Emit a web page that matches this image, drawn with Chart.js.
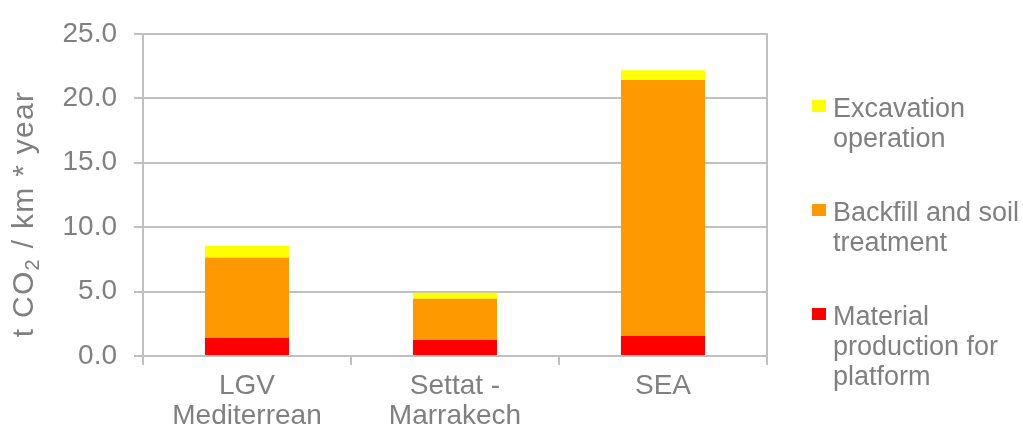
<!DOCTYPE html>
<html>
<head>
<meta charset="utf-8">
<script src="https://cdn.jsdelivr.net/npm/chart.js@4.4.1/dist/chart.umd.min.js"></script>
<style>
  html, body { margin: 0; padding: 0; background: #ffffff; }
  #wrap { width: 1023px; height: 445px; }
</style>
</head>
<body>
<div id="wrap"><canvas id="chart" width="1023" height="445"></canvas></div>
<script>
// Route categories (multi-line tick labels)
const categories = [["LGV", "Mediterrean"], ["Settat -", "Marrakech"], ["SEA"]];

// Emissions per series, t CO2 / km * year
const materialProduction = [1.40, 1.24, 1.55];
const backfillSoil = [6.24, 3.20, 19.86];
const excavationOperation = [0.91, 0.46, 0.76];

// Series names, split the way they wrap in the legend
const materialLines = ["Material", "production for", "platform"];
const backfillLines = ["Backfill and soil", "treatment"];
const excavationLines = ["Excavation", "operation"];

// Value axis
const yMin = 0;
const yMax = 25;
const yStep = 5;

const textColor = '#808080';
const lineColor = '#c0c0c0';
const fontFamily = '"Liberation Sans", Arial, sans-serif';
const tickFontSize = 28;
const legendFontSize = 27;
const titleFontSize = 30;

// Draws the rotated axis title (with subscript) and the wrapped legend on the right
const sideText = {
  id: 'sideText',
  afterDraw(chart) {
    const ctx = chart.ctx;
    const area = chart.chartArea;
    ctx.save();
    ctx.fillStyle = textColor;
    ctx.textBaseline = 'alphabetic';

    // Axis title: "t CO₂ / km * year"
    const big = titleFontSize + 'px ' + fontFamily;
    const small = Math.round(titleFontSize * 0.66) + 'px ' + fontFamily;
    ctx.letterSpacing = '1.3px';
    const parts = [
      { t: 't CO', f: big, dy: 0 },
      { t: '2', f: small, dy: 6 },
      { t: ' / km * year', f: big, dy: 0 }
    ];
    let total = 0;
    parts.forEach(p => { ctx.font = p.f; p.w = ctx.measureText(p.t).width; total += p.w; });
    ctx.translate(23, 214);
    ctx.rotate(-Math.PI / 2);
    let x = -total / 2;
    parts.forEach(p => {
      ctx.font = p.f;
      ctx.fillText(p.t, x, 10 + p.dy);
      x += p.w;
    });
    ctx.setTransform(1, 0, 0, 1, 0, 0);
    ctx.letterSpacing = '0px';

    // Legend, top entry = top of the stack
    ctx.font = legendFontSize + 'px ' + fontFamily;
    const sets = chart.data.datasets.slice().reverse();
    const boxX = area.right + 45;
    const textX = boxX + 21;
    const firstBase = 117;
    const entryGap = 104;
    const lineGap = 30;
    sets.forEach((ds, i) => {
      const base = firstBase + i * entryGap;
      ctx.fillStyle = ds.backgroundColor;
      ctx.fillRect(boxX, base - 17, 14, 12);
      ctx.fillStyle = textColor;
      ds.lines.forEach((ln, j) => ctx.fillText(ln, textX, base + j * lineGap));
    });
    ctx.restore();
  }
};

const ctx = document.getElementById('chart').getContext('2d');
new Chart(ctx, {
  type: 'bar',
  data: {
    labels: categories,
    datasets: [
      { label: materialLines.join(' '), lines: materialLines, data: materialProduction, backgroundColor: '#ff0000' },
      { label: backfillLines.join(' '), lines: backfillLines, data: backfillSoil, backgroundColor: '#ff9900' },
      { label: excavationLines.join(' '), lines: excavationLines, data: excavationOperation, backgroundColor: '#ffff00' }
    ]
  },
  options: {
    responsive: false,
    animation: false,
    devicePixelRatio: 1,
    layout: { padding: { top: 25, right: 256, left: 0, bottom: 0 } },
    datasets: { bar: { categoryPercentage: 1, barPercentage: 0.404, borderWidth: 0 } },
    plugins: { legend: { display: false }, tooltip: { enabled: false } },
    scales: {
      x: {
        stacked: true,
        offset: true,
        grid: { offset: true, drawOnChartArea: false, drawTicks: true, tickLength: 9, color: lineColor, lineWidth: 2 },
        border: { color: lineColor, width: 2 },
        ticks: {
          color: textColor, padding: 6, maxRotation: 0, autoSkip: false,
          font: { family: fontFamily, size: tickFontSize, lineHeight: 1.07 }
        },
        afterFit(s) { s.height = 89; }
      },
      y: {
        stacked: true,
        min: yMin, max: yMax,
        grid: { color: lineColor, lineWidth: 2, tickLength: 9 },
        border: { color: lineColor, width: 2 },
        ticks: {
          stepSize: yStep, color: textColor, padding: 17,
          font: { family: fontFamily, size: tickFontSize },
          callback: v => Number(v).toFixed(1)
        },
        afterFit(s) { s.width = 143; }
      },
      yRight: {
        position: 'right',
        min: yMin, max: yMax,
        grid: { drawOnChartArea: false, drawTicks: false },
        border: { color: lineColor, width: 2 },
        ticks: { display: false },
        afterFit(s) { s.width = 0; }
      }
    }
  },
  plugins: [sideText]
});
</script>
</body>
</html>
